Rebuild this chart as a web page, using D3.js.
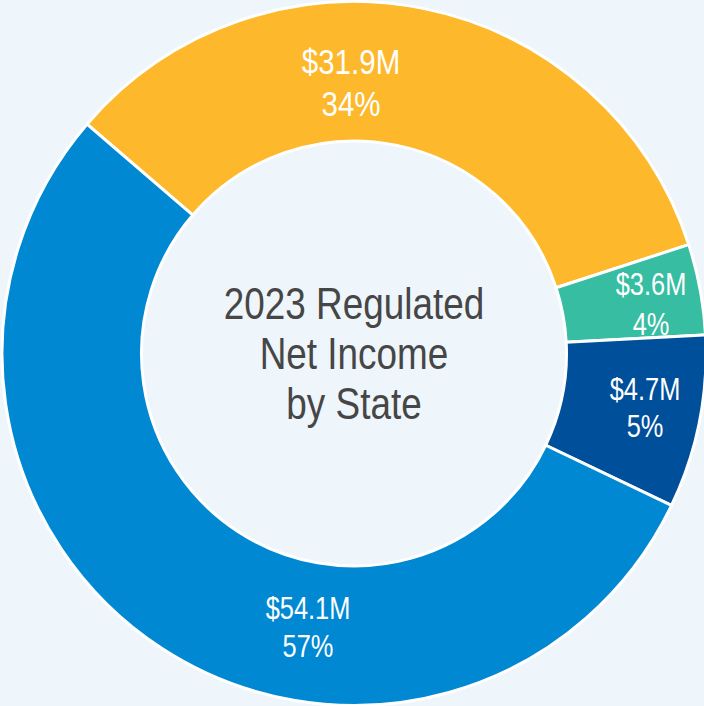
<!DOCTYPE html>
<html>
<head>
<meta charset="utf-8">
<script src="https://cdn.jsdelivr.net/npm/d3@7"></script>
<style>
  html, body { margin: 0; padding: 0; background: #eef5fb; }
  svg { display: block; }
  text { font-family: "Liberation Sans", Arial, sans-serif; }
</style>
</head>
<body>
<div id="chart"></div>
<script>
const states = ['yellow', 'teal', 'navy', 'blue']
const amounts = ['$31.9M', '$3.6M', '$4.7M', '$54.1M']
const percents = ['34%', '4%', '5%', '57%']
// share of the ring each slice takes in the picture (percent of 360 deg)
const ringShare = [33.7, 4.16, 7.95, 54.19]
const colors = ['#fdb82c', '#37bda1', '#004f9b', '#0089d2']
const titleLines = ['2023 Regulated', 'Net Income', 'by State']

const width = 704
const height = 706
const cx = 354
const cy = 353.5
const outerR = 352
const innerR = 212.5
// no narrow face installed, so squeeze the regular one
const narrow = 0.82

// label placement relative to centre: [dx, dy of first baseline, line gap, font size]
const labelLayout = [
  [-3, -280, 43, 36],
  [297, -58.5, 40, 31],
  [291, 46.5, 37, 31],
  [-46, 265, 38.5, 31]
]

const svg = d3.select('#chart')
  .append('svg')
  .attr('width', width)
  .attr('height', height)

svg.append('rect')
  .attr('width', width)
  .attr('height', height)
  .attr('fill', '#eef5fb')

const g = svg.append('g')
  .attr('transform', `translate(${cx},${cy})`)

const pie = d3.pie()
  .sort(null)
  .value((d) => d)
  .startAngle(-49.34 * Math.PI / 180)
  .endAngle((360 - 49.34) * Math.PI / 180)

const arc = d3.arc()
  .innerRadius(innerR)
  .outerRadius(outerR)

const slices = pie(ringShare)

function narrowText (target, x, y, lines, gap, size, color) {
  const t = target.append('g')
    .attr('transform', `translate(${x},${y}) scale(${narrow},1)`)
    .append('text')
    .attr('text-anchor', 'middle')
    .attr('fill', color)
    .style('font-size', `${size}px`)
  lines.forEach((line, i) => {
    t.append('tspan')
      .attr('x', 0)
      .attr('y', i * gap)
      .text(line)
  })
  return t
}

// slice then its label, so the next slice can cover a label that spills over
slices.forEach((s, i) => {
  const slice = g.append('g').attr('class', `slice ${states[i]}`)
  slice.append('path')
    .attr('d', arc(s))
    .attr('fill', colors[i])
    .attr('stroke', '#ffffff')
    .attr('stroke-width', 3)

  const [dx, dy, gap, size] = labelLayout[i]
  narrowText(slice, dx, dy, [amounts[i], percents[i]], gap, size, '#ffffff')
})

narrowText(g, 0, -34.2, titleLines, 50, 45, '#464646')
</script>
</body>
</html>
